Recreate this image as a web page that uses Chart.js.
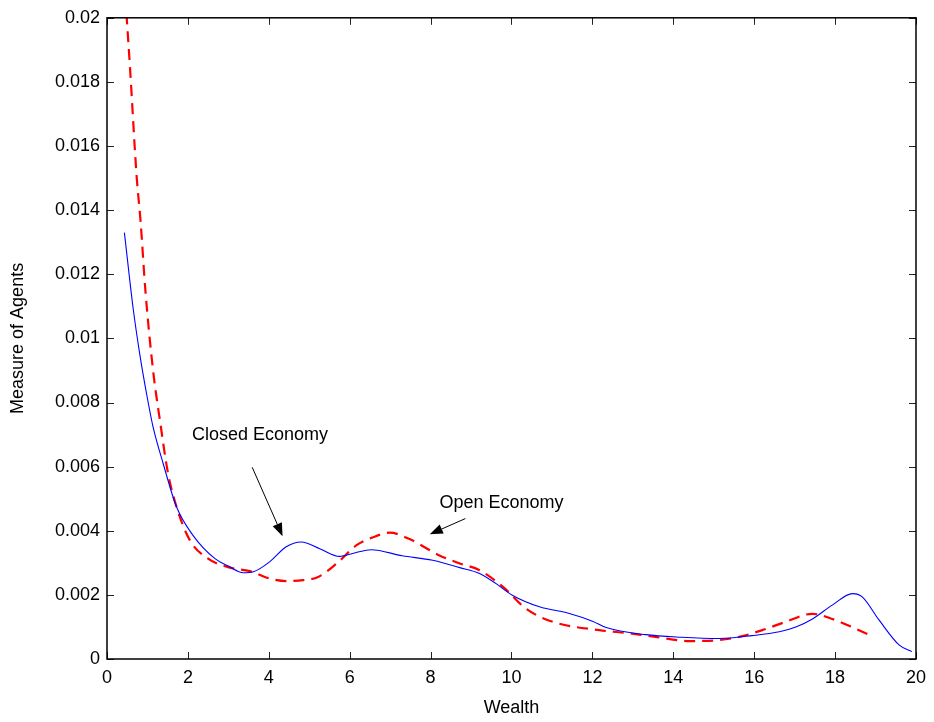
<!DOCTYPE html>
<html>
<head>
<meta charset="utf-8">
<script src="https://cdn.jsdelivr.net/npm/chart.js@4/dist/chart.umd.min.js"></script>
<style>
  html, body { margin: 0; padding: 0; background: #fff; }
  #wrap { width: 934px; height: 722px; position: relative; }
</style>
</head>
<body>
<div id="wrap"><canvas id="c" width="934" height="722"></canvas></div>
<script>
// ---- Data ----
const closedX = [0.43, 0.65, 0.81, 0.98, 1.14, 1.39, 1.72, 2.13, 2.67, 3.0, 3.37, 3.62, 4.02, 4.43, 4.80, 5.26, 5.75, 6.1, 6.53, 7.3, 8.05, 8.72, 9.21, 9.62, 10.02, 10.69, 11.43, 12.0, 12.34, 13.32, 14.2, 15.13, 15.95, 16.62, 17.03, 17.44, 17.93, 18.43, 18.67, 19.09, 19.58, 19.9];
const closedY = [0.0133, 0.0109, 0.00951, 0.00826, 0.00723, 0.00609, 0.00474, 0.00385, 0.00313, 0.0029, 0.00269, 0.00272, 0.00303, 0.0035, 0.00365, 0.00344, 0.0032, 0.0033, 0.00341, 0.00322, 0.00308, 0.00285, 0.00267, 0.00235, 0.00199, 0.00163, 0.00142, 0.00118, 0.00098, 0.00076, 0.00068, 0.00064, 0.00073, 0.00085, 0.001, 0.00125, 0.00168, 0.00204, 0.00194, 0.00121, 0.00044, 0.00023];

const openX = [0.45, 0.57, 0.73, 0.83, 0.95, 1.14, 1.31, 1.51, 1.72, 2.05, 2.5, 3.04, 3.53, 4.02, 4.43, 4.85, 5.22, 5.67, 6.17, 6.58, 6.99, 7.48, 8.22, 8.72, 9.21, 9.79, 10.36, 11.02, 12.17, 12.91, 13.6, 14.4, 15.13, 15.63, 16.2, 16.78, 17.44, 17.93, 18.8];
const openY = [0.0207, 0.01842, 0.0151, 0.01365, 0.01148, 0.00899, 0.00743, 0.00578, 0.00474, 0.0037, 0.00313, 0.00285, 0.00274, 0.00251, 0.00243, 0.00246, 0.00256, 0.00297, 0.00355, 0.0038, 0.00394, 0.00374, 0.00323, 0.00298, 0.00277, 0.00225, 0.00157, 0.00116, 0.0009, 0.0008, 0.00068, 0.00056, 0.00059, 0.00069, 0.0009, 0.00116, 0.00141, 0.00125, 0.00078];

const xTicks = [0, 2, 4, 6, 8, 10, 12, 14, 16, 18, 20];
const yTicks = [0, 0.002, 0.004, 0.006, 0.008, 0.01, 0.012, 0.014, 0.016, 0.018, 0.02];

const seriesNames = ['Closed Economy', 'Open Economy'];
// annotation: text anchor (left, middle) and arrow from -> to, in data units
const noteText = ['Closed Economy', 'Open Economy'];
const noteTextX = [2.1, 8.22];
const noteTextY = [0.0070, 0.00485];
const arrowFromX = [3.59, 8.86];
const arrowFromY = [0.00598, 0.00438];
const arrowToX = [4.34, 7.98];
const arrowToY = [0.00383, 0.00389];

const FONT = 'Liberation Sans, Arial, Helvetica, sans-serif';
const FS = 18;

function pts(xs, ys) { return xs.map((x, i) => ({ x: x, y: ys[i] })); }

const framePlugin = {
  id: 'frame',
  afterDatasetsDraw(chart) {
    const ctx = chart.ctx;
    const xs = chart.scales.x, ys = chart.scales.y;
    const a = chart.chartArea;
    ctx.save();
    // inward ticks on all four sides
    ctx.strokeStyle = '#222';
    ctx.lineWidth = 1;
    const L = 7;
    ctx.beginPath();
    xTicks.forEach(v => {
      const p = Math.round(xs.getPixelForValue(v)) + 0.5;
      ctx.moveTo(p, a.bottom); ctx.lineTo(p, a.bottom - L);
      ctx.moveTo(p, a.top); ctx.lineTo(p, a.top + L);
    });
    yTicks.forEach(v => {
      const p = Math.round(ys.getPixelForValue(v)) + 0.5;
      ctx.moveTo(a.left, p); ctx.lineTo(a.left + L, p);
      ctx.moveTo(a.right, p); ctx.lineTo(a.right - L, p);
    });
    ctx.stroke();
    // frame
    ctx.strokeStyle = '#000';
    ctx.lineWidth = 1.5;
    ctx.strokeRect(a.left, a.top, a.right - a.left, a.bottom - a.top);

    // annotations
    ctx.fillStyle = '#000';
    ctx.font = FS + 'px ' + FONT;
    ctx.textAlign = 'left';
    ctx.textBaseline = 'middle';
    noteText.forEach((t, i) => {
      ctx.fillText(t, xs.getPixelForValue(noteTextX[i]), ys.getPixelForValue(noteTextY[i]));
      const x1 = xs.getPixelForValue(arrowFromX[i]), y1 = ys.getPixelForValue(arrowFromY[i]);
      const x2 = xs.getPixelForValue(arrowToX[i]), y2 = ys.getPixelForValue(arrowToY[i]);
      const ang = Math.atan2(y2 - y1, x2 - x1);
      const hl = 13, hw = 5;
      const bx = x2 - hl * Math.cos(ang), by = y2 - hl * Math.sin(ang);
      ctx.beginPath();
      ctx.lineWidth = 1;
      ctx.moveTo(x1, y1); ctx.lineTo(bx, by);
      ctx.stroke();
      ctx.beginPath();
      ctx.moveTo(x2, y2);
      ctx.lineTo(bx + hw * Math.sin(ang), by - hw * Math.cos(ang));
      ctx.lineTo(bx - hw * Math.sin(ang), by + hw * Math.cos(ang));
      ctx.closePath();
      ctx.fill();
    });
    ctx.restore();
  }
};

new Chart(document.getElementById('c'), {
  type: 'line',
  data: {
    datasets: [
      {
        label: seriesNames[0],
        data: pts(closedX, closedY),
        borderColor: '#0000ff',
        borderWidth: 1.1,
        pointRadius: 0,
        fill: false,
        cubicInterpolationMode: 'monotone'
      },
      {
        label: seriesNames[1],
        data: pts(openX, openY),
        borderColor: '#ff0000',
        borderWidth: 2.2,
        borderDash: [11, 7],
        pointRadius: 0,
        fill: false,
        cubicInterpolationMode: 'monotone'
      }
    ]
  },
  options: {
    responsive: false,
    animation: false,
    devicePixelRatio: 1,
    layout: { padding: { left: 0, top: 16, right: 17, bottom: 0 } },
    plugins: { legend: { display: false }, tooltip: { enabled: false } },
    scales: {
      x: {
        type: 'linear', min: 0, max: 20,
        afterBuildTicks: s => { s.ticks = xTicks.map(v => ({ value: v })); },
        afterFit: s => { s.height = 63; },
        grid: { display: false, drawTicks: false },
        border: { display: false },
        ticks: { color: '#000', padding: 8, font: { family: FONT, size: FS }, maxRotation: 0,
                 callback: v => String(v) },
        title: { display: true, text: 'Wealth', color: '#000', font: { family: FONT, size: FS }, padding: { top: 0, bottom: 3 } }
      },
      y: {
        type: 'linear', min: 0, max: 0.02,
        afterBuildTicks: s => { s.ticks = yTicks.map(v => ({ value: v })); },
        afterFit: s => { s.width = 107; },
        grid: { display: false, drawTicks: false },
        border: { display: false },
        ticks: { color: '#000', padding: 7, font: { family: FONT, size: FS },
                 callback: v => String(Number(v.toFixed(4))) },
        title: { display: true, text: 'Measure of Agents', color: '#000', font: { family: FONT, size: FS }, padding: { top: 7, bottom: 0 } }
      }
    }
  },
  plugins: [framePlugin]
});
</script>
</body>
</html>
